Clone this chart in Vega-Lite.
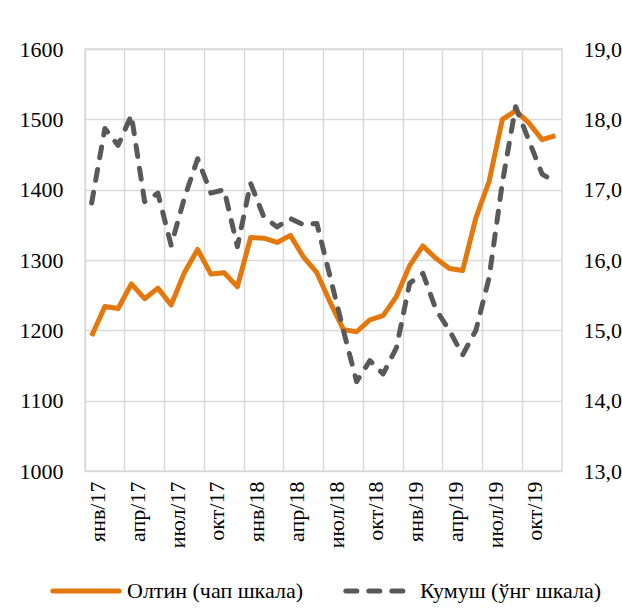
{
  "$schema": "https://vega.github.io/schema/vega-lite/v6.json",
  "width": 477,
  "height": 422,
  "autosize": "none",
  "padding": {"left": 85, "top": 49, "right": 60, "bottom": 137},
  "background": "white",
  "config": {
    "font": "Times New Roman",
    "view": {"stroke": "#D9D9D9", "strokeWidth": 1.5},
    "axis": {
      "labelFont": "Times New Roman",
      "labelFontSize": 22,
      "labelColor": "#000000",
      "domain": false,
      "ticks": false,
      "gridColor": "#D9D9D9",
      "gridWidth": 1.5,
      "title": null
    },
    "legend": {"labelFont": "Times New Roman"}
  },
  "data": {
    "values": [
      {"m": "янв/17", "gold": 1192, "silver": 16.81},
      {"m": "фев/17", "gold": 1234, "silver": 17.87},
      {"m": "мар/17", "gold": 1231, "silver": 17.63},
      {"m": "апр/17", "gold": 1266, "silver": 18.06},
      {"m": "май/17", "gold": 1245, "silver": 16.83},
      {"m": "июн/17", "gold": 1260, "silver": 16.95},
      {"m": "июл/17", "gold": 1236, "silver": 16.21},
      {"m": "авг/17", "gold": 1282, "silver": 16.88},
      {"m": "сен/17", "gold": 1315, "silver": 17.44},
      {"m": "окт/17", "gold": 1280, "silver": 16.95},
      {"m": "ноя/17", "gold": 1282, "silver": 17.0},
      {"m": "дек/17", "gold": 1262, "silver": 16.19},
      {"m": "янв/18", "gold": 1332, "silver": 17.09},
      {"m": "фев/18", "gold": 1331, "silver": 16.61},
      {"m": "мар/18", "gold": 1325, "silver": 16.47},
      {"m": "апр/18", "gold": 1335, "silver": 16.59},
      {"m": "май/18", "gold": 1304, "silver": 16.5},
      {"m": "июн/18", "gold": 1282, "silver": 16.52},
      {"m": "июл/18", "gold": 1240, "silver": 15.76},
      {"m": "авг/18", "gold": 1201, "silver": 15.0},
      {"m": "сен/18", "gold": 1198, "silver": 14.27},
      {"m": "окт/18", "gold": 1215, "silver": 14.57},
      {"m": "ноя/18", "gold": 1221, "silver": 14.38},
      {"m": "дек/18", "gold": 1248, "silver": 14.75},
      {"m": "янв/19", "gold": 1292, "silver": 15.67},
      {"m": "фев/19", "gold": 1320, "silver": 15.81},
      {"m": "мар/19", "gold": 1302, "silver": 15.29},
      {"m": "апр/19", "gold": 1288, "silver": 15.0},
      {"m": "май/19", "gold": 1285, "silver": 14.65},
      {"m": "июн/19", "gold": 1360, "silver": 15.0},
      {"m": "июл/19", "gold": 1412, "silver": 15.75},
      {"m": "авг/19", "gold": 1500, "silver": 17.1},
      {"m": "сен/19", "gold": 1512, "silver": 18.18},
      {"m": "окт/19", "gold": 1495, "silver": 17.7},
      {"m": "ноя/19", "gold": 1471, "silver": 17.22},
      {"m": "дек/19", "gold": 1477, "silver": 17.11}
    ]
  },
  "encoding": {
    "x": {
      "field": "m",
      "type": "ordinal",
      "sort": null,
      "bandPosition": 0.5,
      "scale": {"type": "band", "paddingInner": 0, "paddingOuter": 0},
      "axis": {
        "values": ["янв/17", "апр/17", "июл/17", "окт/17", "янв/18", "апр/18", "июл/18", "окт/18", "янв/19", "апр/19", "июл/19", "окт/19"],
        "bandPosition": 0,
        "labelOffset": 6.6,
        "labelAngle": -90,
        "labelAlign": "right",
        "labelBaseline": "middle",
        "labelPadding": 10,
        "labelFontSize": 22,
        "grid": true
      }
    }
  },
  "layer": [
    {
      "mark": {"type": "line", "strokeWidth": 5, "strokeJoin": "round"},
      "encoding": {
        "y": {
          "field": "gold",
          "type": "quantitative",
          "scale": {"domain": [1000, 1600], "nice": false, "zero": false},
          "axis": {"orient": "left", "values": [1000, 1100, 1200, 1300, 1400, 1500, 1600], "format": "d", "labelFontSize": 22, "labelPadding": 22, "grid": true}
        },
        "color": {
          "datum": "Олтин (чап шкала)",
          "type": "nominal",
          "scale": {"domain": ["Олтин (чап шкала)", "Кумуш (ўнг шкала)"], "range": ["#E4780C", "#595959"]},
          "legend": {
            "orient": "none",
            "legendX": -35,
            "legendY": 506,
            "direction": "horizontal",
            "title": null,
            "symbolType": "stroke",
            "symbolSize": 4400,
            "symbolStrokeWidth": 5,
            "labelFontSize": 22,
            "labelColor": "#000000",
            "labelOffset": 5,
            "columnPadding": 32,
            "labelLimit": 400,
            "encode": {
              "symbols": {
                "update": {
                  "strokeCap": {"value": "round"},
                  "strokeDash": {"signal": "datum.label === 'Кумуш (ўнг шкала)' ? [11, 12] : [1, 0]"}
                }
              }
            }
          }
        }
      }
    },
    {
      "mark": {"type": "line", "strokeWidth": 5, "strokeDash": [11, 12], "strokeCap": "round", "strokeJoin": "round"},
      "encoding": {
        "y": {
          "field": "silver",
          "type": "quantitative",
          "scale": {"domain": [13, 19], "nice": false, "zero": false},
          "axis": {"orient": "right", "values": [13, 14, 15, 16, 17, 18, 19], "labelFontSize": 22, "labelPadding": 21, "grid": false, "labelExpr": "replace(format(datum.value, '.1f'), '.', ',')"}
        },
        "color": {"datum": "Кумуш (ўнг шкала)", "type": "nominal"}
      }
    }
  ],
  "resolve": {"scale": {"y": "independent"}}
}
